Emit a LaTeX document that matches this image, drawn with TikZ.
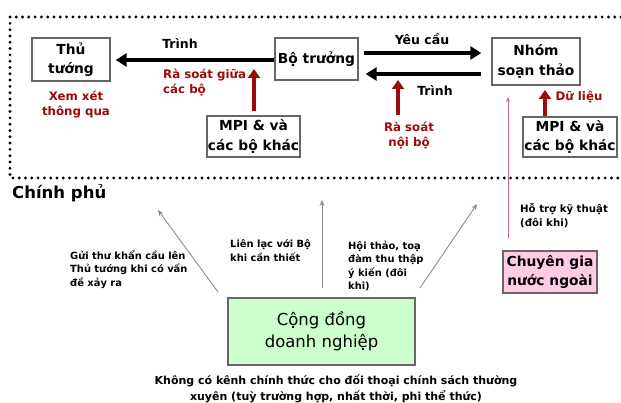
\documentclass[tikz,border=0pt]{standalone}
\usepackage{fontspec}
\setmainfont{DejaVu Sans}
\usetikzlibrary{arrows.meta, positioning}
\definecolor{darkred}{HTML}{9C0A0A}
\definecolor{boxgray}{HTML}{666666}
\definecolor{softgreen}{HTML}{CCFFCC}
\definecolor{softpink}{HTML}{FFCCE6}
\definecolor{linkpink}{HTML}{CC6688}
\tikzset{
    x=1pt, y=-1pt, % one unit is one pixel of the layout, y grows downwards
    box/.style={draw=boxgray, line width=1.4pt, fill=white, align=center, inner sep=0pt,
        font=\bfseries\fontsize{13.8}{19.5}\selectfont}, % the framed actors
    redtext/.style={text=darkred, align=center, font=\bfseries\fontsize{11.8}{15}\selectfont},
    note/.style={align=left, anchor=north west, inner sep=0pt, font=\bfseries\fontsize{9.9}{13.5}\selectfont},
    bigarrow/.style={-{Triangle[length=11pt,width=13pt]}, line width=3.2pt}, % the black flows
    redarrow/.style={-{Triangle[length=9pt,width=12pt]}, line width=3.6pt, darkred},
    grayarrow/.style={-{Stealth[length=6pt,width=5pt]}, line width=0.9pt, black!45},
}
\begin{document}
\begin{tikzpicture}
    \useasboundingbox (0,0) rectangle (621,403);
    % government frame
    \draw[line width=3.2pt, line cap=round, dash pattern=on 0pt off 6.3pt]
        (621,17) -- (10,17) -- (10,178) -- (621,178);
    \node[anchor=west, inner sep=0pt, font=\bfseries\fontsize{16.5}{18}\selectfont] (cp) at (12,193) {Chính phủ};

    % actors
    \node[box, minimum width=78pt, minimum height=43pt] (tt) at (71,59.5) {Thủ\\tướng};
    \node[box, minimum width=83pt, minimum height=42pt] (bt) at (316.5,59) {Bộ trưởng};
    \node[box, minimum width=88pt, minimum height=47pt] (nst) at (536,61.5) {Nhóm\\soạn thảo};
    \node[box, minimum width=93pt, minimum height=41pt] (mpia) at (253.5,136.5) {MPI \& và\\các bộ khác};
    \node[box, minimum width=94pt, minimum height=40pt] (mpib) at (570,137) {MPI \& và\\các bộ khác};
    \node[box, fill=softpink, minimum width=94pt, minimum height=42pt] (cg) at (550,272) {Chuyên gia\\nước ngoài};
    \node[box, fill=softgreen, minimum width=187pt, minimum height=67pt,
        font=\fontsize{16.5}{22}\selectfont] (cd) at (321.5,331.5) {Cộng đồng\\doanh nghiệp};

    % labels
    \node[font=\bfseries\fontsize{12.5}{14}\selectfont] (trinha) at (180,44) {Trình};
    \node[font=\bfseries\fontsize{12.5}{14}\selectfont] (yc) at (422,39) {Yêu cầu};
    \node[font=\bfseries\fontsize{12.5}{14}\selectfont] (trinhb) at (435,91) {Trình};
    \node[redtext] (xx) at (76,104.5) {Xem xét\\thông qua};
    \node[redtext, align=left, anchor=north west, inner sep=0pt] (rsgc) at (163,68.5) {Rà soát giữa\\các bộ};
    \node[redtext] (rsnb) at (409,135.5) {Rà soát\\nội bộ};
    \node[redtext] (dl) at (579,97) {Dữ liệu};
    \node[note, font=\bfseries\fontsize{10.2}{14.5}\selectfont] (ht) at (520,203) {Hỗ trợ kỹ thuật\\(đôi khi)};
    \node[note] (gt) at (70,250) {Gửi thư khẩn cầu lên\\Thủ tướng khi có vấn\\đề xảy ra};
    \node[note] (ll) at (230,239.5) {Liên lạc với Bộ\\khi cần thiết};
    \node[note] (hd) at (348,240.5) {Hội thảo, toạ\\đàm thu thập\\ý kiến (đôi\\khi)};
    \node[align=center, font=\bfseries\fontsize{11}{15.5}\selectfont] (kc) at (336,389)
        {Không có kênh chính thức cho đối thoại chính sách thường\\xuyên (tuỳ trường hợp, nhất thời, phi thể thức)};

    % black flows
    \draw[bigarrow, shorten >=5pt] ([yshift=-1pt]bt.west) -- ([yshift=-0.5pt]tt.east -| tt.east);
    \draw[bigarrow, shorten <=5pt, shorten >=10pt] ([yshift=6pt]bt.east) -- ([yshift=8.5pt]nst.west);
    \draw[bigarrow, shorten <=10pt, shorten >=7pt] ([yshift=-12.5pt]nst.west) -- ([yshift=-15pt]bt.east);

    % red reviews
    \coordinate (rsgctip) at (254,69);
    \coordinate (rsnbtip) at (398,80);
    \coordinate (dltip) at (545,90);
    \draw[redarrow, shorten <=4pt] (mpia.north -| rsgctip) -- (rsgctip);
    \draw[redarrow] (398,115) -- (rsnbtip);
    \draw[redarrow] (mpib.north -| dltip) -- (dltip);

    % technical support
    \coordinate (httip) at (508,97);
    \draw[-{Stealth[length=5pt,width=4pt]}, line width=0.8pt, linkpink, shorten <=12pt]
        (cg.north -| httip) -- (httip);

    % business community channels
    \coordinate (gtfoot) at (218,292);
    \coordinate (gttip) at (158,210);
    \coordinate (llfoot) at (322,288);
    \coordinate (lltip) at (322,200);
    \coordinate (hdfoot) at (420,288);
    \coordinate (hdtip) at (477,204);
    \draw[grayarrow] (gtfoot) -- (gttip);
    \draw[grayarrow] (llfoot) -- (lltip);
    \draw[grayarrow] (hdfoot) -- (hdtip);
\end{tikzpicture}
\end{document}
